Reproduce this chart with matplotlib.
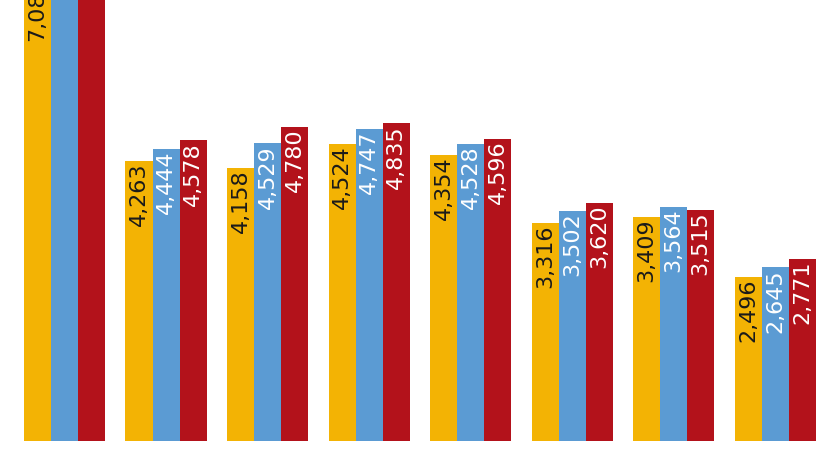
import matplotlib.pyplot as plt
import numpy as np

# values (first group's blue/red are cut off, estimated)
series_a = [7085, 4263, 4158, 4524, 4354, 3316, 3409, 2496]
series_b = [7850, 4444, 4529, 4747, 4528, 3502, 3564, 2645]
series_c = [8050, 4578, 4780, 4835, 4596, 3620, 3515, 2771]
colors = ["#F3B304", "#5B9BD3", "#B3121B"]
text_colors = ["#1a1a1a", "white", "white"]

fig = plt.figure(figsize=(8.26, 4.65), dpi=100)
ax = fig.add_axes([0, 0, 1, 1])

x = np.arange(len(series_a))
w = 0.266
for k, (vals, c, tc) in enumerate(zip([series_a, series_b, series_c], colors, text_colors)):
    pos = x + (k - 1) * w
    ax.bar(pos, vals, width=w, color=c, linewidth=0)
    for p, v in zip(pos, vals):
        ax.text(p, v - 25, f"{v:,}", rotation=90, ha="center", va="top",
                color=tc, fontsize=16, family="DejaVu Sans Condensed")

ax.set_xlim(-0.635, 7.50)
ax.set_ylim(-365, 6713)
ax.axis("off")

fig.savefig("out.png", dpi=100)
